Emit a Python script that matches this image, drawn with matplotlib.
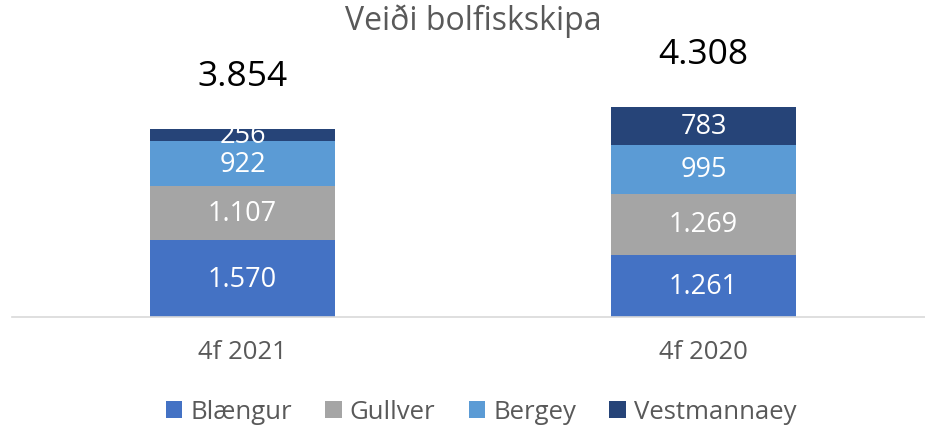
import matplotlib
matplotlib.use("Agg")
import matplotlib.pyplot as plt
import numpy as np

plt.rcParams['font.family'] = ['Open Sans', 'DejaVu Sans']

categories = ["4f 2021", "4f 2020"]
series_names = ["Blængur", "Gullver", "Bergey", "Vestmannaey"]
blaengur = [1570, 1261]
gullver = [1107, 1269]
bergey = [922, 995]
vestmannaey = [256, 783]
totals = [3854, 4308]
colors = ["#4472C4", "#A5A5A5", "#5B9BD5", "#264478"]

def fmt(v):
    return f"{v:,}".replace(",", ".")

W, H = 925, 431
fig = plt.figure(figsize=(W/100, H/100), dpi=100)
ax_left, ax_right = 12, 934
ax_bottom_px, ax_top_px = 318, 40
ax = fig.add_axes([ax_left/W, 1-ax_bottom_px/H, (ax_right-ax_left)/W, (ax_bottom_px-ax_top_px)/H])

x = np.arange(len(categories))
data = [blaengur, gullver, bergey, vestmannaey]
bottom = np.zeros(len(categories))
for name, vals, c in zip(series_names, data, colors):
    ax.bar(x, vals, 0.4, bottom=bottom, color=c, label=name, zorder=2)
    for xi, b, v in zip(x, bottom, vals):
        ax.text(xi, b + v/2, fmt(v), ha='center', va='center', color='white', fontsize=19.5)
    bottom += np.array(vals)

for xi, t in zip(x, totals):
    ax.annotate(fmt(t), (xi, t), xytext=(0, 38), textcoords='offset points',
                ha='center', va='center', fontsize=25.5, color='black')

ax.set_xlim(-0.5, 1.5)
ax.set_ylim(0, (ax_bottom_px-ax_top_px)/0.0488)
for s in ['top', 'right', 'left']:
    ax.spines[s].set_visible(False)
ax.spines['bottom'].set_color('#D9D9D9')
ax.spines['bottom'].set_linewidth(1.2)
ax.set_yticks([])
ax.set_xticks(x)
ax.set_xticklabels(categories, fontsize=18.5, color='#595959')
ax.tick_params(axis='x', length=0, pad=16)

fig.text(473/W, 1-21/H, "Veiði bolfiskskipa", ha='center', va='center', fontsize=23, color='#595959')

handles, labels = ax.get_legend_handles_labels()
leg = fig.legend(handles, labels, loc='center', bbox_to_anchor=(481/W, 1-413/H), ncol=4,
                 frameon=False, fontsize=18.5, handlelength=0.65, handleheight=0.65,
                 handletextpad=0.3, columnspacing=1.3, labelcolor='#595959')

fig.savefig("out.png", dpi=100)
